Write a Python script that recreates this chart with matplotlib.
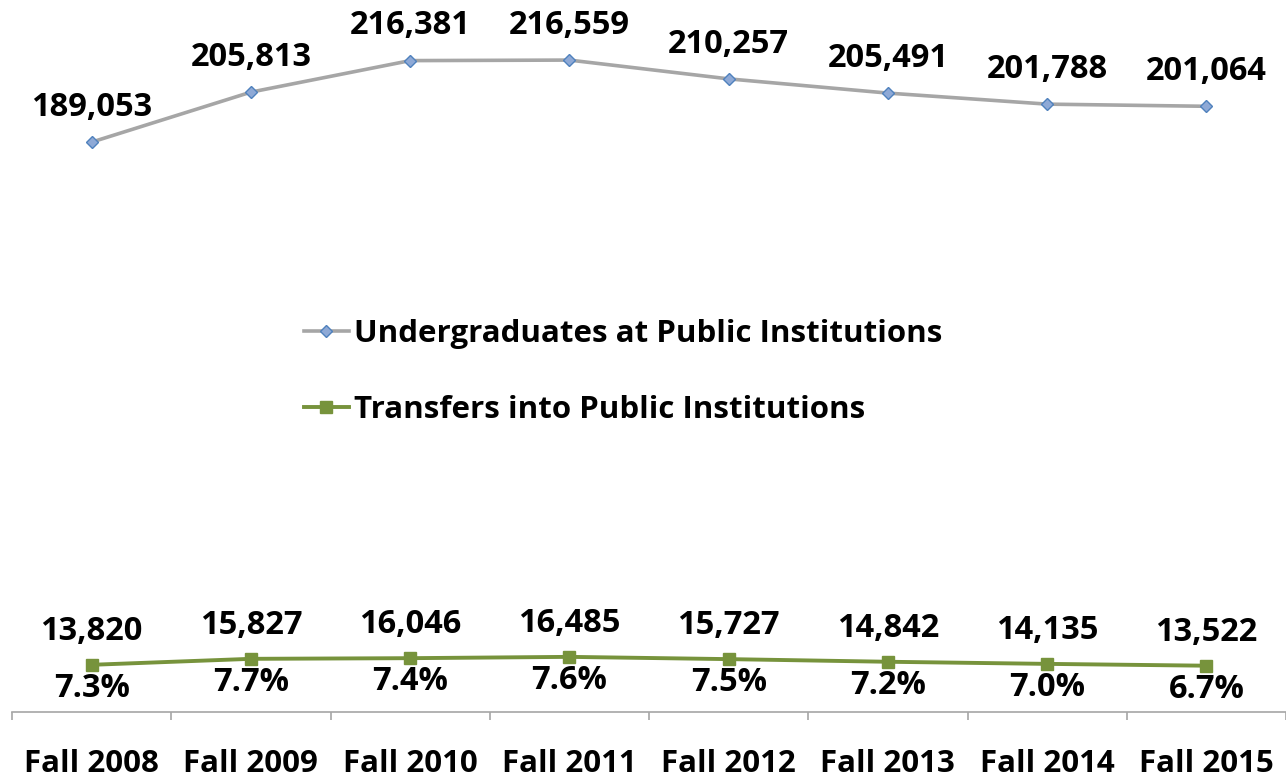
import numpy as np
import matplotlib.pyplot as plt

plt.rcParams["font.family"] = ["Open Sans", "DejaVu Sans"]

years = ["Fall 2008", "Fall 2009", "Fall 2010", "Fall 2011",
         "Fall 2012", "Fall 2013", "Fall 2014", "Fall 2015"]
undergrads = [189053, 205813, 216381, 216559, 210257, 205491, 201788, 201064]
transfers = [13820, 15827, 16046, 16485, 15727, 14842, 14135, 13522]
transfer_pct = ["7.3%", "7.7%", "7.4%", "7.6%", "7.5%", "7.2%", "7.0%", "6.7%"]

fig = plt.figure(figsize=(12.86, 7.78), dpi=100)
ax = fig.add_axes([12 / 1286, 66 / 778, 1 - 12 / 1286, 712 / 778])

x = np.arange(len(years))

ax.plot(x, undergrads, color="#A6A6A6", linewidth=2.6, marker="D",
        markersize=6.5, markerfacecolor="#8EA9D6", markeredgecolor="#4F81BD",
        markeredgewidth=1.0, label="Undergraduates at Public Institutions")
ax.plot(x, transfers, color="#77933C", linewidth=2.8, marker="s",
        markersize=8, markerfacecolor="#77933C", markeredgecolor="#77933C",
        label="Transfers into Public Institutions")

for xi, v in zip(x, undergrads):
    ax.annotate(f"{v:,}", (xi, v), xytext=(0, 25), textcoords="offset points",
                ha="center", va="center", fontsize=23.5, fontweight="bold")

for xi, v, p in zip(x, transfers, transfer_pct):
    ax.annotate(f"{v:,}", (xi, v), xytext=(0, 24), textcoords="offset points",
                ha="center", va="center", fontsize=23.5, fontweight="bold")
    ax.annotate(p, (xi, v), xytext=(0, -17), textcoords="offset points",
                ha="center", va="center", fontsize=23.5, fontweight="bold")

ax.set_xlim(-0.5, len(years) - 0.5)
ax.set_ylim(-2000, 236700)

for side in ["top", "right", "left"]:
    ax.spines[side].set_visible(False)
ax.spines["bottom"].set_color("#A6A6A6")
ax.spines["bottom"].set_linewidth(1.2)
ax.set_yticks([])

ax.set_xticks(x)
ax.set_xticklabels(years, fontsize=22.5, fontweight="bold")
ax.tick_params(axis="x", which="major", length=0, pad=27)
ax.set_xticks(np.arange(-0.5, len(years), 1.0), minor=True)
ax.tick_params(axis="x", which="minor", length=6, color="#A6A6A6", width=1.2)

fig.legend(loc="center", bbox_to_anchor=(623 / 1286, 1 - 372 / 778),
           frameon=False, prop={"size": 22.5, "weight": "bold"},
           labelspacing=1.45, handlelength=1.45, handletextpad=0.17)

fig.savefig("out.png", dpi=100)
